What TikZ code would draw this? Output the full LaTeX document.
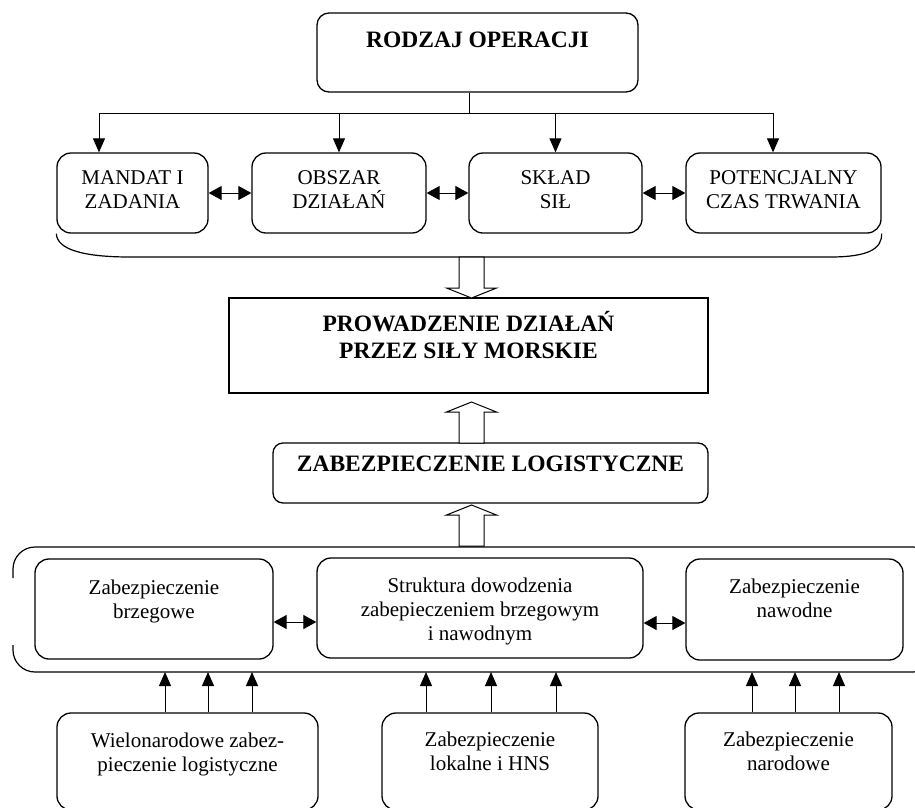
\documentclass[tikz,border=0pt]{standalone}
\usepackage{fontspec}
\setmainfont{Liberation Serif}
\usetikzlibrary{arrows.meta}
\begin{document}
\begin{tikzpicture}[x=1pt,y=-1pt,
  rbox/.style={draw, line width=1.3pt, rounded corners=14pt, inner sep=0pt},
  sbox/.style={draw, line width=1.1pt, inner sep=0pt},
  lbl/.style={align=center, inner sep=0pt, font=\fontsize{21}{24}\selectfont},
  blbl/.style={align=center, inner sep=0pt, font=\fontsize{23.5}{26.5}\selectfont\bfseries},
  conn/.style={line width=1pt},
  arr/.style={conn, -{Triangle[length=14pt,width=12pt]}},
  darr/.style={conn, {Triangle[length=13pt,width=14pt]}-{Triangle[length=13pt,width=14pt]}},
  hollow/.style={draw, line width=1pt, fill=white, line join=miter},
  hollowdown/.pic={\draw[hollow] (-12.5,-41) -- (-12.5,-10) -- (-25,-10) -- (0,0) -- (25,-10) -- (12.5,-10) -- (12.5,-41) -- cycle;},
  hollowup/.pic={\draw[hollow] (-12.5,41) -- (-12.5,10) -- (-25,10) -- (0,0) -- (25,10) -- (12.5,10) -- (12.5,41) -- cycle;}
]
\path[use as bounding box] (0,0) rectangle (915,807);
\clip (0,0) rectangle (915,807);

% operation type and its four factors
\node[rbox, rounded corners=12pt, minimum width=321pt, minimum height=79pt] (rodzaj) at (477.5,52.5) {};
\node[blbl] (rodzajt) at (477.5,40) {RODZAJ OPERACJI};

\node[rbox, minimum width=151pt, minimum height=80pt] (m1) at (132.5,193) {};
\node[rbox, minimum width=174pt, minimum height=80pt] (m2) at (339,193) {};
\node[rbox, minimum width=173pt, minimum height=80pt] (m3) at (555.5,193) {};
\node[rbox, minimum width=195pt, minimum height=80pt] (m4) at (783.5,193) {};
\node[lbl] (m1t) at (132.5,190) {MANDAT I\\ZADANIA};
\node[lbl] (m2t) at (339,190) {OBSZAR\\DZIAŁAŃ};
\node[lbl] (m3t) at (555.5,190) {SKŁAD\\SIŁ};
\node[lbl] (m4t) at (783.5,190) {POTENCJALNY\\CZAS TRWANIA};

% naval operations
\node[sbox, minimum width=479pt, minimum height=95pt] (prow) at (468.5,345.5) {};
\node[blbl] (prowt) at (468.5,335) {PROWADZENIE DZIAŁAŃ\\PRZEZ SIŁY MORSKIE};

% logistic support
\node[rbox, rounded corners=10pt, minimum width=435pt, minimum height=60pt] (logi) at (490.5,473) {};
\node[blbl] (logit) at (490.5,464) {ZABEZPIECZENIE LOGISTYCZNE};

% support structure
\node[rbox, minimum width=238pt, minimum height=100pt] (c1) at (154,609) {};
\node[rbox, minimum width=326pt, minimum height=100pt] (c2) at (480,608) {};
\node[rbox, minimum width=217pt, minimum height=101pt] (c3) at (794.5,609.5) {};
\node[lbl] (c1t) at (154,601) {Zabezpieczenie\\brzegowe};
\node[lbl] (c2t) at (480,611) {Struktura dowodzenia\\zabepieczeniem brzegowym\\i nawodnym};
\node[lbl] (c3t) at (794.5,598) {Zabezpieczenie\\nawodne};

% sources of support
\node[rbox, minimum width=261pt, minimum height=97pt] (b1) at (187.5,761.5) {};
\node[rbox, minimum width=216pt, minimum height=97pt] (b2) at (490,761.5) {};
\node[rbox, minimum width=207pt, minimum height=97pt] (b3) at (788.5,761.5) {};
\node[lbl] (b1t) at (187.5,754) {Wielonarodowe zabez-\\pieczenie logistyczne};
\node[lbl] (b2t) at (490,751) {Zabezpieczenie\\lokalne i HNS};
\node[lbl] (b3t) at (788.5,751) {Zabezpieczenie\\narodowe};

% distribution bus
\coordinate (bus) at (469,113);
\coordinate (bl) at (99,113);
\coordinate (br) at (773,113);
\draw[conn] (rodzaj.south -| bus) -- (bus);
\draw[conn] (bl) -- (br);
\draw[arr] (bl) -- (bl |- m1.north);
\draw[arr] (m2.north |- bus) -- (m2.north);
\draw[arr] (m3.north |- bus) -- (m3.north);
\draw[arr] (br) -- (br |- m4.north);

\draw[darr] (m1.east) -- (m2.west);
\draw[darr] (m2.east) -- (m3.west);
\draw[darr] (m3.east) -- (m4.west);

% bracket under the factors
\draw[line width=1.2pt] (m1.south west) .. controls (57,250) and (85,257) .. (130,257)
  -- (830,257) .. controls (868,257) and (882,249) .. (m4.south east);

\pic at (471.5,298) {hollowdown};
\pic at (471.5,402) {hollowup};
\pic at (471.5,505) {hollowup};

% frame around the support structure
\coordinate (cb) at (480,672);
\draw[line width=1.2pt, rounded corners=22pt] (13,578) -- (13,547) -- (935,547) -- (935,672) -- (13,672) -- (13,645);

\draw[darr] ([yshift=-13pt]c1.east) -- ([yshift=-13pt]c1.east -| c2.west);
\draw[darr] ([yshift=-15pt]c2.east) -- ([yshift=-15pt]c2.east -| c3.west);

\foreach \xx in {165,208,252} \draw[arr] (\xx,0 |- b1.north) -- (\xx,0 |- cb);
\foreach \xx in {426,491,556} \draw[arr] (\xx,0 |- b2.north) -- (\xx,0 |- cb);
\foreach \xx in {752,795,839} \draw[arr] (\xx,0 |- b3.north) -- (\xx,0 |- cb);
\end{tikzpicture}
\end{document}
